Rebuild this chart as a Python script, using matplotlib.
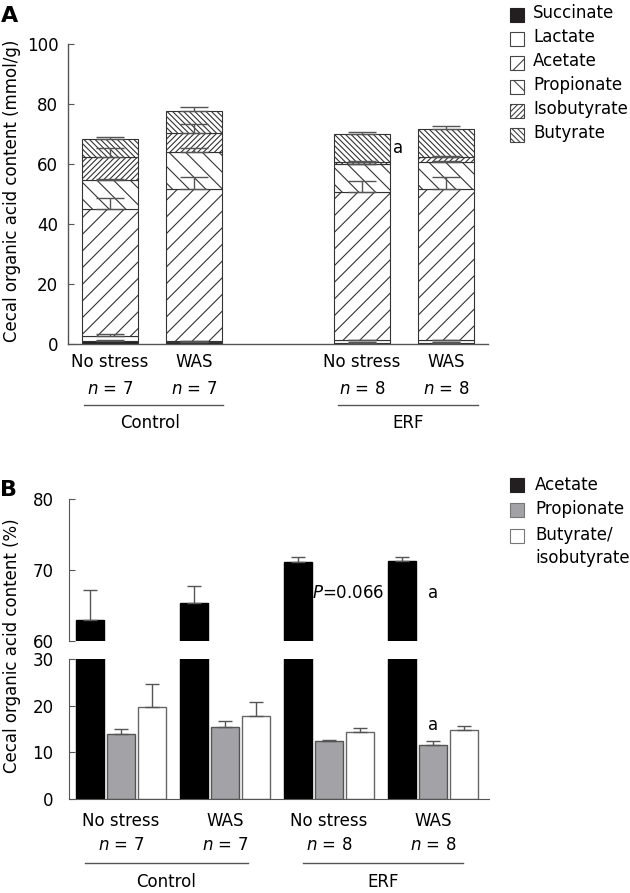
import numpy as np
import matplotlib
matplotlib.use("Agg")
import matplotlib.pyplot as plt
from matplotlib.patches import Rectangle
from matplotlib.transforms import blended_transform_factory

plt.rcParams['font.family'] = ['DejaVu Sans']
plt.rcParams['font.size'] = 12
plt.rcParams['hatch.linewidth'] = 0.8
plt.rcParams['mathtext.fontset'] = 'dejavusans'

# ---------------- data: panel A (mmol/g, stacked) ----------------
conditions = ['No stress', 'WAS', 'No stress', 'WAS']
n_labels = ['7', '7', '8', '8']
groups = ['Control', 'ERF']
components_a = ['Succinate', 'Lactate', 'Acetate', 'Propionate', 'Isobutyrate', 'Butyrate']
succinate = [0.9, 0.6, 0.4, 0.4]
succinate_err = [0.3, 0.1, 0.3, 0.2]
lactate = [1.9, 0.3, 1.0, 1.0]
lactate_err = [0.4, 0.1, 0.1, 0.1]
acetate = [42.1, 50.7, 49.4, 50.4]
acetate_err = [3.9, 4.2, 3.6, 3.8]
propionate = [9.8, 12.3, 9.1, 8.9]
propionate_err = [0.2, 1.3, 0.2, 0.2]
isobutyrate = [7.5, 6.5, 0.9, 1.7]
isobutyrate_err = [3.2, 2.8, 0.2, 0.2]
butyrate = [6.1, 7.4, 9.1, 9.2]
butyrate_err = [0.8, 1.3, 0.7, 1.1]

# ---------------- data: panel B (% of total) ----------------
components_b = ['Acetate', 'Propionate', 'Butyrate/\nisobutyrate']
acetate_pct = [63.0, 65.35, 71.1, 71.25]
acetate_pct_err = [4.2, 2.45, 0.8, 0.55]
propionate_pct = [13.8, 15.5, 12.4, 11.6]
propionate_pct_err = [1.1, 1.2, 0.2, 0.8]
butyrate_pct = [19.6, 17.7, 14.25, 14.7]
butyrate_pct_err = [5.1, 3.0, 0.85, 1.0]

W, H = 630, 893
fig = plt.figure(figsize=(W / 100, H / 100), dpi=100)

spine_col = '#555555'
err_col = '#555555'
edge_col = '#333333'

def px_rect(x0, y_top, x1, y_bot):
    return [x0 / W, 1 - y_bot / H, (x1 - x0) / W, (y_bot - y_top) / H]

def legend_box(x0, yc, size, fc, ec, hatch=None):
    r = Rectangle((x0 / W, 1 - (yc + size / 2) / H), size / W, size / H,
                  transform=fig.transFigure, facecolor=fc, edgecolor=ec,
                  linewidth=0.8, hatch=hatch)
    fig.add_artist(r)

# ================= Panel A =================
axA = fig.add_axes(px_rect(68, 44, 488, 344))
xa = np.array([0, 1, 3, 4], dtype=float)
wa = 0.655
series_a = [succinate, lactate, acetate, propionate, isobutyrate, butyrate]
errs_a = [succinate_err, lactate_err, acetate_err, propionate_err, isobutyrate_err, butyrate_err]
fills_a = ['#231f20', 'white', 'white', 'white', 'white', 'white']
hatches_a = [None, None, '//', '\\\\', '//////', '\\\\\\\\\\\\']
bottom = np.zeros(4)
tops = []
for vals, fc, hat in zip(series_a, fills_a, hatches_a):
    vals = np.array(vals)
    axA.bar(xa, vals, wa, bottom=bottom, color=fc, edgecolor=edge_col,
            linewidth=0.8, hatch=hat, zorder=2)
    bottom = bottom + vals
    tops.append(bottom.copy())
for top, err in zip(tops, errs_a):
    err = np.array(err)
    axA.errorbar(xa, top, yerr=[np.zeros(4), err], fmt='none', ecolor=err_col,
                 elinewidth=1, capsize=10, capthick=1, zorder=3)

axA.set_xlim(-0.5, 4.5)
axA.set_ylim(0, 100)
axA.set_yticks([0, 20, 40, 60, 80, 100])
axA.set_xticks([])
for s in ['top', 'right']:
    axA.spines[s].set_visible(False)
for s in ['left', 'bottom']:
    axA.spines[s].set_color(spine_col)
    axA.spines[s].set_linewidth(1)
axA.tick_params(axis='y', direction='in', length=4, color=spine_col, pad=7, labelsize=12)
axA.text(3.43, 65.3, 'a', ha='center', va='center', fontsize=12)

trA = blended_transform_factory(axA.transData, axA.transAxes)
hA = 300.0
for x, c, n in zip(xa, conditions, n_labels):
    axA.text(x, -18 / hA, c, transform=trA, ha='center', va='center', fontsize=12)
    axA.text(x, -45 / hA, r'$n$ = ' + n, transform=trA, ha='center', va='center', fontsize=12)
for (x0, x1), xc, g in zip([(-0.315, 1.35), (2.71, 4.375)], [0.48, 3.55], groups):
    axA.plot([x0, x1], [-61 / hA, -61 / hA], transform=trA, color=spine_col,
             lw=1, clip_on=False)
    axA.text(xc, -79 / hA, g, transform=trA, ha='center', va='center', fontsize=12)

fig.text(12 / W, 1 - 191 / H, 'Cecal organic acid content (mmol/g)', rotation=90,
         ha='center', va='center', fontsize=12)
fig.text(0.5 / W, 1 - 22 / H, 'A', fontsize=16, fontweight='bold', ha='left', va='baseline')

# legend A (manual)
for i, (lab, fc, hat) in enumerate(zip(components_a, fills_a, hatches_a)):
    yc = 15 + 24 * i
    ec = '#231f20' if fc != 'white' else '#444444'
    legend_box(510, yc, 14, fc, ec, hat)
    fig.text(533 / W, 1 - (yc + 2.5) / H, lab, ha='left', va='baseline', fontsize=12)

# ================= Panel B (broken axis) =================
axBt = fig.add_axes(px_rect(69, 499.3, 489, 641))
axBb = fig.add_axes(px_rect(69, 659, 489, 798.7))
xb = np.arange(4, dtype=float)
wb = 0.27
offs = [-0.3, 0.0, 0.3]
series_b = [acetate_pct, propionate_pct, butyrate_pct]
errs_b = [acetate_pct_err, propionate_pct_err, butyrate_pct_err]
fills_b = ['black', '#a3a3a7', 'white']
edges_b = ['black', '#555555', '#666666']
for ax in (axBt, axBb):
    for off, vals, err, fc, ec in zip(offs, series_b, errs_b, fills_b, edges_b):
        ax.bar(xb + off, vals, wb, color=fc, edgecolor=ec, linewidth=1, zorder=2)
        ax.errorbar(xb + off, vals, yerr=[np.zeros(4), err], fmt='none', ecolor=err_col,
                    elinewidth=1, capsize=5, capthick=1, zorder=3)
    ax.set_xlim(-0.5, 3.54)
    ax.set_xticks([])
    for s in ['top', 'right']:
        ax.spines[s].set_visible(False)
    ax.spines['left'].set_color(spine_col)
    ax.tick_params(axis='y', direction='in', length=4, color=spine_col, pad=11, labelsize=12)

axBt.set_ylim(60, 80)
axBt.set_yticks([60, 70, 80])
axBt.spines['bottom'].set_visible(False)
axBb.set_ylim(0, 30)
axBb.set_yticks([0, 10, 20, 30])
axBb.spines['bottom'].set_color(spine_col)

axBt.text(2.19, 66.8, r'$P$=0.066', ha='center', va='center', fontsize=12)
axBt.text(3.0, 66.8, 'a', ha='center', va='center', fontsize=12)
axBb.text(3.0, 15.8, 'a', ha='center', va='center', fontsize=12)

trB = blended_transform_factory(axBb.transData, axBb.transAxes)
hB = 798.7 - 659
for x, c, n in zip(xb, conditions, n_labels):
    axBb.text(x, -22 / hB, c, transform=trB, ha='center', va='center', fontsize=12)
    axBb.text(x, -46 / hB, r'$n$ = ' + n, transform=trB, ha='center', va='center', fontsize=12)
for (x0, x1), xc, g in zip([(-0.346, 1.22), (1.75, 3.29)], [0.43, 2.52], groups):
    axBb.plot([x0, x1], [-64 / hB, -64 / hB], transform=trB, color=spine_col,
              lw=1, clip_on=False)
    axBb.text(xc, -83 / hB, g, transform=trB, ha='center', va='center', fontsize=12)

fig.text(12 / W, 1 - 646 / H, 'Cecal organic acid content (%)', rotation=90,
         ha='center', va='center', fontsize=12)
fig.text(0.5 / W, 1 - 496 / H, 'B', fontsize=16, fontweight='bold', ha='left', va='baseline')

# legend B (manual)
legend_b_fc = ['#231f20', '#a3a3a7', 'white']
legend_b_ec = ['#231f20', '#777777', '#777777']
legend_b_yc = [485, 510, 535.5]
for lab, fc, ec, yc in zip(components_b, legend_b_fc, legend_b_ec, legend_b_yc):
    legend_box(509.5, yc, 14, fc, ec)
    for k, line in enumerate(lab.split('\n')):
        fig.text(535 / W, 1 - (yc + 4.5 + 23 * k) / H, line, ha='left', va='baseline',
                 fontsize=12)

fig.savefig('out.png', dpi=100)
